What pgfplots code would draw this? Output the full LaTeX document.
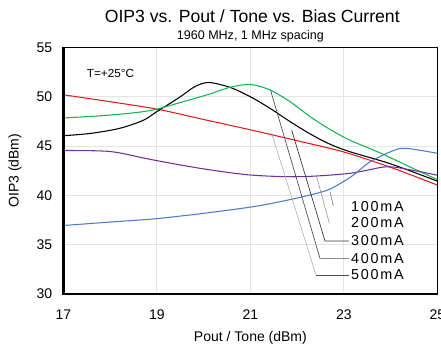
\documentclass[border=0pt]{standalone}
\usepackage{fontspec}
\setmainfont{Liberation Sans}
\usepackage{pgfplots}
\pgfplotsset{compat=1.18}

\definecolor{cRed}{RGB}{225,30,30}
\definecolor{cGreen}{RGB}{20,180,80}
\definecolor{cPurple}{RGB}{112,48,160}
\definecolor{cBlue}{RGB}{75,125,200}
\definecolor{cGrid}{RGB}{228,228,228}

\newcommand{\leglab}[1]{\fontsize{10.8}{12}\selectfont\addfontfeature{LetterSpace=12}#1}

\begin{document}
\begin{tikzpicture}
\begin{axis}[
    at={(0,0)}, anchor=south west,
    scale only axis,
    width=280.35pt, height=184.9pt,
    xmin=17, xmax=25, ymin=30, ymax=55,
    xtick={17,19,21,23,25},
    ytick={30,35,40,45,50,55},
    major tick length=0pt,
    grid=major,
    major grid style={cGrid, line width=0.8pt},
    axis line style={line width=1pt},
    tick label style={font=\fontsize{10.5}{12}\selectfont},
    /pgf/number format/assume math mode=true,
    xticklabel style={yshift=-8pt},
    yticklabel style={xshift=-5pt},
    clip=false,
    every axis plot/.append style={line width=0.8pt, smooth, no markers},
]

% title and labels
\node at (rel axis cs:0.505,1) [yshift=23.6pt] {\fontsize{13.2}{15}\selectfont OIP3 vs. Pout / Tone vs. Bias Current};
\node at (rel axis cs:0.5,1) [yshift=8.6pt] {\fontsize{9.4}{11}\selectfont 1960 MHz, 1 MHz spacing};
\node at (rel axis cs:0.5,0) [yshift=-33pt] {\fontsize{10.5}{12}\selectfont Pout / Tone (dBm)};
\node at (rel axis cs:0,0.5) [xshift=-36.4pt, rotate=90] {\fontsize{10.5}{12}\selectfont OIP3 (dBm)};
\node[anchor=west] at (axis cs:17.4,52.4) {\fontsize{8.8}{10}\selectfont T=+25°C};

% red
\addplot[cRed] coordinates {
    (17,50.2) (18,49.5) (19,48.75) (20,47.7) (21,46.65) (22,45.55)
    (23,44.4) (24,42.85) (25,41.05)
};

% black
\addplot[black] coordinates {
    (17,46.05) (17.6,46.3) (18.2,46.8) (18.7,47.6) (19,48.5) (19.5,50.0)
    (19.8,51.0) (20.1,51.45) (20.56,50.96) (21,50.0) (21.42,48.83)
    (21.85,47.48) (22.28,46.23) (22.7,45.2) (23.13,44.43) (24,43.2) (25,41.45)
};

% green
\addplot[cGreen] coordinates {
    (17,47.85) (18,48.15) (18.85,48.6) (19.56,49.5) (20.13,50.28)
    (20.56,50.96) (21,51.25) (21.42,50.69) (21.85,49.5) (22.28,47.98)
    (22.7,46.7) (23.13,45.6) (23.78,44.3) (24.41,42.9) (25,41.6)
};

% purple
\addplot[cPurple] coordinates {
    (17,44.55) (18,44.45) (18.85,43.66) (19.92,42.75) (21,42.07)
    (22.06,41.9) (23.13,42.24) (23.9,42.9) (24.41,42.6) (25,42.05)
};

% blue
\addplot[cBlue] coordinates {
    (17,36.95) (18,37.3) (19,37.65) (20.13,38.26) (21.18,38.95)
    (22.06,39.8) (22.63,40.5) (22.92,41.2) (23.2,42.05) (23.56,43.4) (24,44.43)
    (24.31,44.78) (25,44.27)
};

% leader lines
\draw[black!70, line width=0.5pt] (axis cs:21.434,50.62) -- (axis cs:22.489,33.62) -- (axis cs:23.11,33.62);
\draw[black!80, line width=0.5pt] (axis cs:21.883,46.63) -- (axis cs:22.596,35.38) -- (axis cs:23.11,35.38);
\draw[black!35, line width=0.4pt] (axis cs:21.455,46.30) -- (axis cs:22.403,31.93);
\draw[black!70, line width=0.5pt] (axis cs:22.403,31.93) -- (axis cs:23.11,31.93);
\draw[black!45, line width=0.4pt] (axis cs:22.418,41.90) -- (axis cs:22.688,37.17);
\draw[black!60, line width=0.4pt] (axis cs:22.703,40.38) -- (axis cs:22.774,38.93);

\node[anchor=west, inner sep=1pt] at (axis cs:23.12,38.9) {\leglab{100mA}};
\node[anchor=west, inner sep=1pt] at (axis cs:23.12,37.2) {\leglab{200mA}};
\node[anchor=west, inner sep=1pt] at (axis cs:23.12,35.38) {\leglab{300mA}};
\node[anchor=west, inner sep=1pt] at (axis cs:23.12,33.62) {\leglab{400mA}};
\node[anchor=west, inner sep=1pt] at (axis cs:23.12,31.93) {\leglab{500mA}};

% heavier left and bottom frame
\draw[line width=1.8pt] (rel axis cs:0,1) -- (rel axis cs:0,0) -- (rel axis cs:1,0);
\end{axis}
\pgfresetboundingbox
\path[use as bounding box] (-47.6pt,-42pt) rectangle (283.1pt,220.5pt);
\end{tikzpicture}
\end{document}
